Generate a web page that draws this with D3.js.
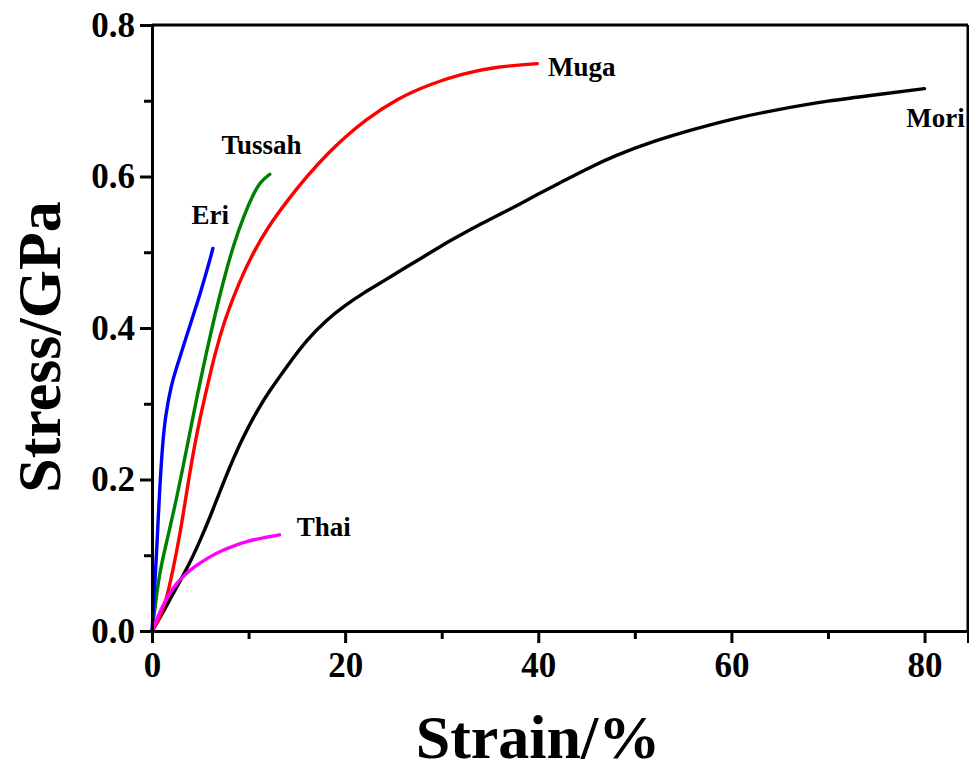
<!DOCTYPE html>
<html>
<head>
<meta charset="utf-8">
<script src="https://cdn.jsdelivr.net/npm/d3@7"></script>
<style>
  html, body { margin: 0; padding: 0; background: #fff; }
  svg { display: block; }
  text { font-family: "Liberation Serif", "Times New Roman", serif; font-weight: bold; fill: #000; }
</style>
</head>
<body>
<svg id="chart" width="969" height="771"></svg>
<script>
// ---- data (strain %, stress GPa) ----
const mori = [[0,0],[1,0.021],[2,0.045],[3,0.068],[4,0.092],[5,0.12],[6,0.15],[7,0.183],[8,0.215],[9,0.244],[10,0.27],[11,0.293],[12,0.314],[14,0.35],[16,0.384],[18,0.41],[20,0.43],[22,0.447],[24,0.462],[26,0.478],[28,0.493],[30,0.509],[32,0.523],[34,0.537],[36,0.55],[38,0.563],[40,0.577],[42,0.59],[45,0.61],[48,0.628],[52,0.647],[56,0.662],[60,0.676],[65,0.689],[70,0.70],[75,0.708],[80,0.716]];
const muga = [[0,0],[0.5,0.01],[1,0.024],[1.5,0.042],[2.2,0.082],[2.9,0.128],[3.4,0.168],[4.25,0.235],[5,0.283],[5.8,0.327],[6.5,0.365],[7.5,0.41],[9,0.46],[10.5,0.5],[12,0.533],[14,0.568],[16,0.6],[18.4,0.633],[20,0.652],[22,0.674],[25.4,0.703],[28.8,0.722],[32.2,0.736],[35.7,0.745],[39.9,0.749]];
const tussah = [[0,0],[0.4,0.04],[0.8,0.078],[1.5,0.117],[2.2,0.155],[3.2,0.215],[4.5,0.3],[6,0.39],[7.5,0.468],[8.5,0.512],[9.5,0.548],[10.5,0.577],[11.2,0.593],[12.2,0.603]];
const eri = [[0,0],[0.25,0.05],[0.5,0.11],[0.8,0.19],[1.1,0.248],[1.4,0.285],[2.0,0.325],[2.5,0.346],[3,0.366],[3.5,0.386],[4,0.406],[4.5,0.426],[5,0.446],[5.5,0.468],[6,0.49],[6.3,0.505]];
const thai = [[0,0],[0.4,0.012],[0.8,0.025],[1.3,0.038],[1.9,0.051],[2.5,0.062],[3.2,0.072],[4,0.081],[5,0.09],[6,0.098],[7,0.105],[8.4,0.112],[10,0.119],[11.5,0.123],[13.2,0.127]];

const seriesNames = ["Mori", "Muga", "Tussah", "Eri", "Thai"];
const seriesColors = ["#000000", "#ff0000", "#008000", "#0000ff", "#ff00ff"];
const xTicks = [0, 20, 40, 60, 80];
const xMinor = [10, 30, 50, 70];
const yTicks = [0.0, 0.2, 0.4, 0.6, 0.8];
const yMinor = [0.1, 0.3, 0.5, 0.7];
// label anchor points in data units
const labelPos = [[78.1, 0.665], [41.0, 0.733], [7.2, 0.630], [4.1, 0.537], [15.0, 0.125]];

const svg = d3.select("#chart");
const L = 152, R = 968, T = 25, B = 631;
const x = d3.scaleLinear().domain([0, 84.5]).range([L, R]);
const y = d3.scaleLinear().domain([0, 0.8]).range([B, T]);

// curves
const line = d3.line().x(d => x(d[0])).y(d => y(d[1])).curve(d3.curveBasis);
const allData = [mori, muga, tussah, eri, thai];
allData.forEach((s, i) => {
  svg.append("path").datum(s).attr("d", line)
    .attr("fill", "none").attr("stroke", seriesColors[i])
    .attr("stroke-width", 3.4).attr("stroke-linejoin", "round").attr("stroke-linecap", "round");
});

// frame top/right
svg.append("line").attr("x1", L).attr("x2", R).attr("y1", T).attr("y2", T).attr("stroke", "#000").attr("stroke-width", 3);
svg.append("line").attr("x1", R).attr("x2", R).attr("y1", T).attr("y2", B).attr("stroke", "#000").attr("stroke-width", 3);

// x axis
const xAxis = svg.append("g").attr("transform", `translate(0,${B})`)
  .call(d3.axisBottom(x).tickValues(xTicks).tickFormat(d3.format("d")).tickSize(12).tickPadding(9));
svg.append("g").attr("transform", `translate(0,${B})`)
  .call(d3.axisBottom(x).tickValues(xMinor).tickFormat("").tickSize(8))
  .call(g => g.select(".domain").remove());
// y axis
const yAxis = svg.append("g").attr("transform", `translate(${L},0)`)
  .call(d3.axisLeft(y).tickValues(yTicks).tickFormat(d3.format(".1f")).tickSize(12).tickPadding(5));
svg.append("g").attr("transform", `translate(${L},0)`)
  .call(d3.axisLeft(y).tickValues(yMinor).tickFormat("").tickSize(8))
  .call(g => g.select(".domain").remove());

svg.selectAll(".domain").attr("stroke", "#000").attr("stroke-width", 3);
svg.selectAll(".tick line").attr("stroke", "#000").attr("stroke-width", 3);
svg.selectAll(".tick text")
  .attr("font-family", "Liberation Serif, Times New Roman, serif")
  .attr("font-weight", "bold").attr("font-size", 35).attr("fill", "#000");
xAxis.selectAll(".tick text").attr("dy", "0.72em");

// axis titles
svg.append("text").attr("x", (L + R) / 2 - 22).attr("y", 758)
  .attr("text-anchor", "middle").attr("font-size", 62).text("Strain/%");
svg.append("text").attr("transform", `translate(60,${347}) rotate(-90)`)
  .attr("text-anchor", "middle").attr("font-size", 62).text("Stress/GPa");

// series labels
seriesNames.forEach((n, i) => {
  svg.append("text").attr("x", x(labelPos[i][0])).attr("y", y(labelPos[i][1]))
    .attr("font-size", 27).text(n);
});
</script>
</body>
</html>
